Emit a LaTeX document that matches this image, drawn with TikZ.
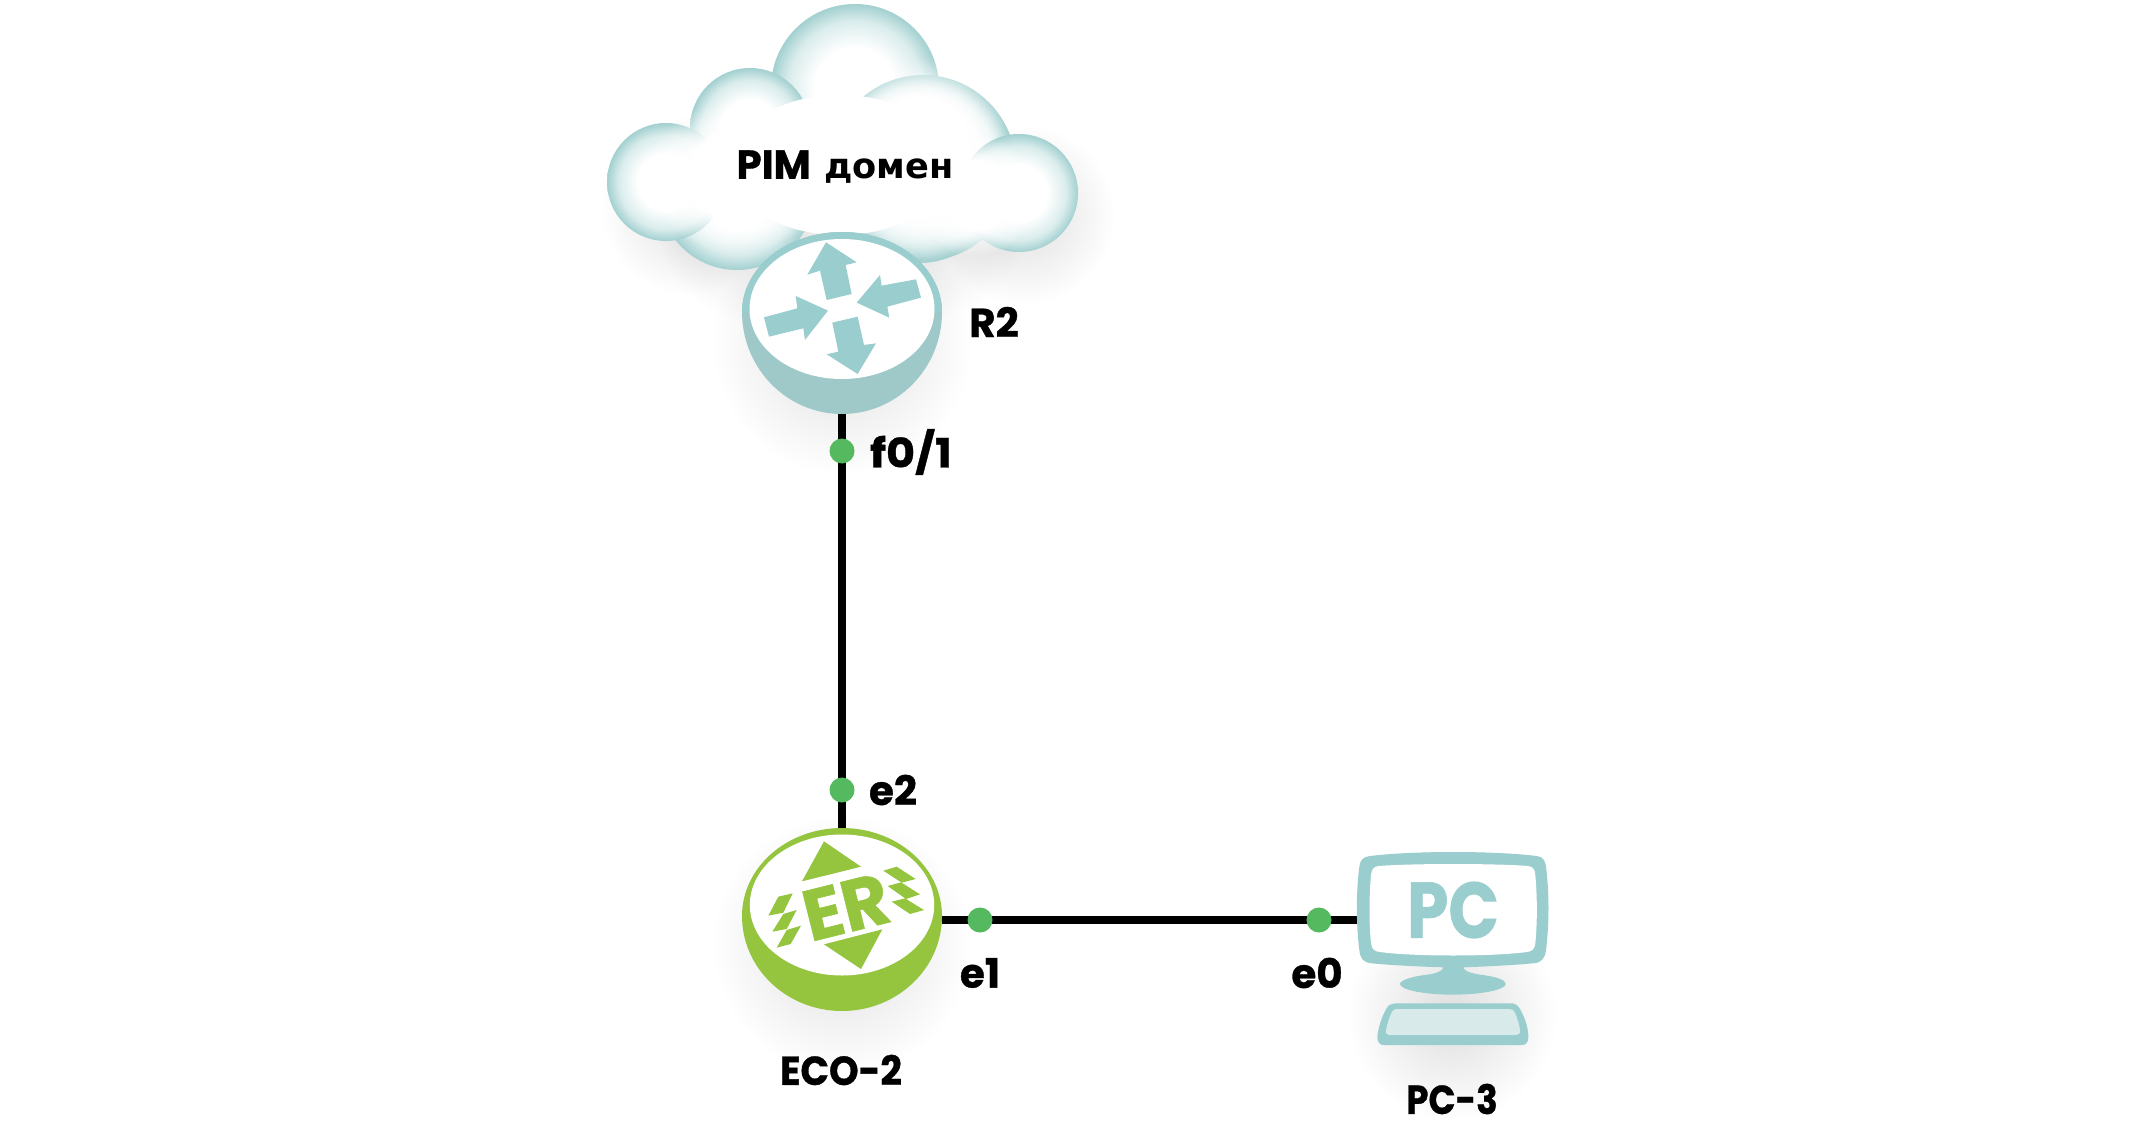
\documentclass[tikz,border=0pt]{standalone}
\usepackage{fontspec}
\setmainfont{Poppins}[BoldFeatures={FakeBold=0.8}]
\newfontfamily\cyrf{DejaVu Sans}
\usetikzlibrary{fadings}
\definecolor{tealA}{HTML}{99CDCE}
\definecolor{tealB}{HTML}{9FC9C9}
\definecolor{tealL}{HTML}{D8EAEA}
\definecolor{greenA}{HTML}{95C53F}
\definecolor{dotg}{HTML}{55B95F}
\definecolor{cloudE}{HTML}{A3D0D0}
\pgfdeclareradialshading{cloudA}{\pgfpointorigin}{color(0bp)=(white);color(12bp)=(white);color(20bp)=(white!60!cloudE);color(25bp)=(cloudE);color(50bp)=(cloudE)}
\pgfdeclareradialshading{wfshade}{\pgfpointorigin}{color(0bp)=(white);color(14bp)=(white);color(25bp)=(black);color(50bp)=(black)}
\pgfdeclarefading{wf}{\pgfuseshading{wfshade}}
\tikzfading[name=softf, inner color=transparent!87, outer color=transparent!100]
\tikzset{
  x=0.02cm,y=-0.02cm,
  dev/.style={inner sep=0pt,outer sep=0pt},
  link/.style={line width=0.17cm,black},
  dotn/.style={circle,fill=dotg,draw=none,inner sep=0pt,minimum size=0.5cm},
  lab/.style={font=\fontsize{23}{27}\selectfont\bfseries,text=black,inner sep=0pt},
  cA/.style={shading=cloudA},
  wh/.style={fill=white,path fading=wf},
  shad/.style={fill=black,path fading=softf},
}
\begin{document}
\begin{tikzpicture}
\fill[white] (0,0) rectangle (2155,1132);
\useasboundingbox (0,0) rectangle (2155,1132);
% shadows
\fill[shad] (690,205) circle (90);
\fill[shad] (1025,215) circle (90);
\fill[shad] (760,220) circle (105);
\fill[shad] (925,215) circle (105);
\fill[shad] (842,345) circle (130);
\fill[shad] (842,945) circle (130);
\fill[shad] (1452,1015) circle (105);
% anchors of the devices
\node[dev,minimum width=4cm,minimum height=3.64cm] (r2) at (842,323) {};
\node[dev,minimum width=4cm,minimum height=3.64cm] (eco) at (842,920) {};
\node[dev,minimum width=3.8cm,minimum height=2.2cm] (pc) at (1453,920) {};
% links
\draw[link] (r2.south) -- (eco.north);
\draw[link] (eco.east) -- (pc.west);
% cloud
\shade[cA] (737,192) circle (78);
\shade[cA] (920,185) circle (78);
\shade[cA] (855,88) circle (84);
\shade[cA] (923,168) circle (93);
\shade[cA] (750,128) circle (60);
\shade[cA] (666,182) circle (59);
\fill[wh] (737,176) ellipse (92 and 76);
\fill[wh] (920,146) circle (88);
\fill[wh] (920,168) circle (90);
\fill[white] (840,165) ellipse (110 and 70);
\shade[cA] (1019,193) circle (59);
\fill[wh] (975,195) circle (62);
\node[lab] (cloud) at (845,167) {PIM\hspace{0.12em} {\cyrf\fontsize{20}{24}\selectfont домен}};
% R2
\fill[tealB] (742,312) arc[start angle=180,end angle=360,x radius=100,y radius=80]
   arc[start angle=0,end angle=180,x radius=100,y radius=102] -- cycle;
\fill[tealA] (742,312) arc[start angle=180,end angle=360,x radius=100,y radius=80] -- cycle;
\fill[white] (842,309) ellipse (92.5 and 70);
\begin{scope}[shift={(590,0)},x=0.00667cm,y=-0.00667cm]
\fill[tealA] (708,727)--(800,787)--(767,795)--(785,882)--(710,900)--(690,812)--(652,824)--cycle;
\fill[tealA] (522,952)--(537,1010)--(640,985)--(645,1020)--(714,932)--(617,888)--(622,925)--cycle;
\fill[tealA] (978,838)--(993,893)--(892,920)--(898,953)--(800,908)--(870,825)--(875,857)--cycle;
\fill[tealA] (727,968)--(803,950)--(822,1035)--(858,1030)--(803,1122)--(710,1063)--(745,1055)--cycle;
\end{scope}
\node[lab,anchor=center] (r2lab) at (994,322) {R2};
% ECO
\fill[greenA] (742,916) arc[start angle=180,end angle=360,x radius=100,y radius=88]
   arc[start angle=0,end angle=180,x radius=100,y radius=95] -- cycle;
\fill[white] (842,905) ellipse (92.2 and 70.5);
\begin{scope}[shift={(720,800)},x=0.00667cm,y=-0.00667cm]
\fill[greenA] (312,124)--(423,200)--(246,244)--cycle;
\fill[greenA] (312,433)--(487,388)--(423,507)--cycle;
\fill[greenA] (145,347)--(175,290)--(218,280)--(190,338)--cycle;
\fill[greenA] (157,395)--(190,342)--(230,330)--(200,387)--cycle;
\fill[greenA] (170,443)--(200,390)--(243,377)--(212,432)--cycle;
\fill[greenA] (490,212)--(530,200)--(587,237)--(545,248)--cycle;
\fill[greenA] (503,258)--(543,247)--(600,283)--(558,297)--cycle;
\fill[greenA] (515,305)--(555,295)--(612,330)--(570,342)--cycle;
\end{scope}
\node[inner sep=0pt,text=greenA,rotate=14,font=\fontsize{41}{42}\selectfont\bfseries] (er) at (846,907) {ER};
% PC
\begin{scope}[shift={(1280,830)},x=0.00667cm,y=-0.00667cm]
\fill[tealA] (270,78) .. controls (400,62) and (640,62) .. (770,78)
  .. controls (790,80) and (797,95) .. (798,110)
  .. controls (808,190) and (808,280) .. (798,360)
  .. controls (795,385) and (785,398) .. (760,400)
  .. controls (680,407) and (600,410) .. (550,412)
  .. controls (552,422) and (565,428) .. (600,434)
  .. controls (650,440) and (677,450) .. (677,462)
  .. controls (677,480) and (600,494) .. (518,494)
  .. controls (436,494) and (360,480) .. (360,462)
  .. controls (360,450) and (400,438) .. (450,433)
  .. controls (475,428) and (488,422) .. (490,412)
  .. controls (430,410) and (350,407) .. (275,400)
  .. controls (250,398) and (240,385) .. (238,360)
  .. controls (228,280) and (228,190) .. (238,110)
  .. controls (240,90) and (250,80) .. (270,78) -- cycle;
\fill[white] (295,108) .. controls (400,100) and (640,100) .. (745,108)
  .. controls (760,110) and (765,120) .. (766,135)
  .. controls (772,200) and (772,280) .. (766,340)
  .. controls (764,358) and (755,365) .. (740,366)
  .. controls (640,380) and (400,380) .. (300,366)
  .. controls (285,365) and (275,358) .. (273,340)
  .. controls (267,280) and (267,200) .. (273,135)
  .. controls (275,118) and (280,110) .. (295,108) -- cycle;
\fill[tealA] (292,620) .. controls (296,585) and (308,555) .. (320,535)
  .. controls (325,525) and (335,520) .. (345,520) -- (695,520)
  .. controls (705,520) and (715,527) .. (720,537)
  .. controls (732,558) and (745,590) .. (745,620)
  .. controls (745,638) and (738,645) .. (725,645) -- (310,645)
  .. controls (298,645) and (292,635) .. (292,620) -- cycle;
\fill[tealL] (318,600) .. controls (322,580) and (328,562) .. (335,547)
  .. controls (338,540) and (343,537) .. (350,537) -- (688,537)
  .. controls (696,537) and (702,541) .. (705,548)
  .. controls (712,565) and (718,585) .. (720,600)
  .. controls (721,610) and (717,615) .. (708,615) -- (330,615)
  .. controls (321,615) and (316,610) .. (318,600) -- cycle;
\end{scope}
\node[inner sep=0pt,text=tealA,font=\fontsize{45}{46}\selectfont\bfseries,xscale=0.84] (pclogo) at (1453,910) {PC};
% dots
\node[dotn] (d1) at (842,451) {};
\node[dotn] (d2) at (842,790) {};
\node[dotn] (d3) at (980,920) {};
\node[dotn] (d4) at (1319,920) {};
% labels
\node[lab,xscale=1.1] (l1) at (911,452) {f0/1};
\node[lab] (l2) at (893,790) {e2};
\node[lab] (l3) at (980,973) {e1};
\node[lab] (l4) at (1317,973) {e0};
\node[lab,xscale=0.93] (l5) at (841,1070) {ECO-2};
\node[lab,xscale=0.88] (l6) at (1452,1099) {PC-3};
\end{tikzpicture}
\end{document}
